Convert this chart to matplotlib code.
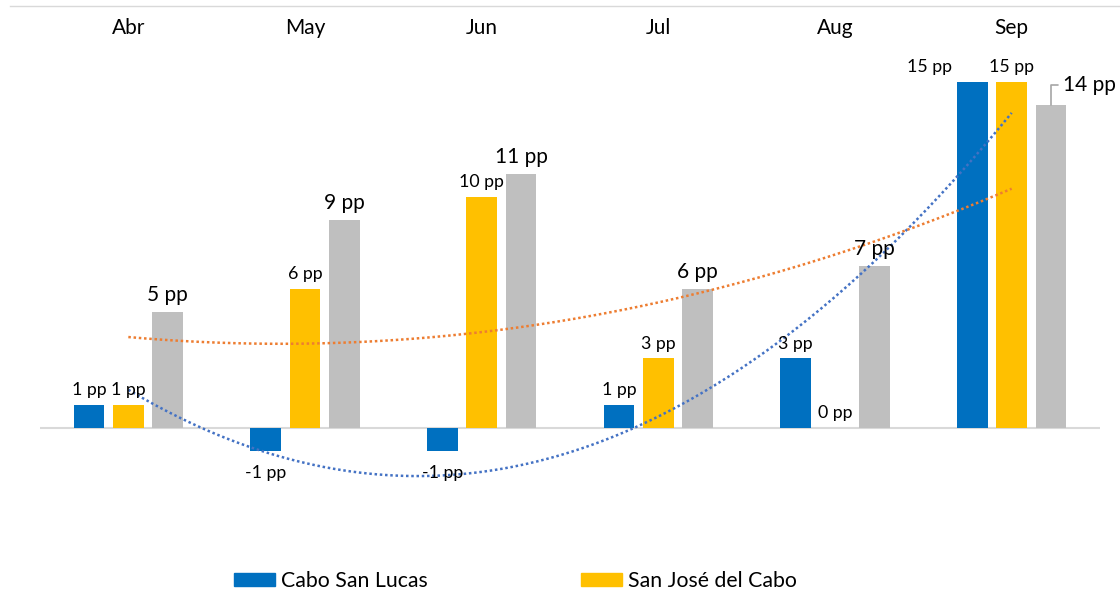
import numpy as np
import matplotlib.pyplot as plt
import matplotlib.transforms as mtransforms
from matplotlib.lines import Line2D
from matplotlib.patches import Patch

plt.rcParams['font.family'] = ['Lato', 'DejaVu Sans']

months = ['Abr', 'May', 'Jun', 'Jul', 'Aug', 'Sep']
cabo_san_lucas = [1, -1, -1, 1, 3, 15]
san_jose = [1, 6, 10, 3, 0, 15]
total = [5, 9, 11, 6, 7, 14]

BLUE = '#0070C0'
YELLOW = '#FFC000'
GRAY = '#BFBFBF'

W, H = 1120, 593
fig = plt.figure(figsize=(W / 100, H / 100), dpi=100)
ax = fig.add_axes([40 / W, (H - 520) / H, 1060 / W, 480 / H])

x = np.arange(len(months))
width = 0.175
off = 0.2225

ax.bar(x - off, cabo_san_lucas, width, color=BLUE, zorder=2)
ax.bar(x, san_jose, width, color=YELLOW, zorder=2)
ax.bar(x + off, total, width, color=GRAY, zorder=2)

ax.axhline(0, color='#D9D9D9', lw=1.5, zorder=1)

# polynomial trendlines (order 2)
xs = np.linspace(0, len(months) - 1, 200)
for series, col in [(cabo_san_lucas, '#4472C4'), (san_jose, '#ED7D31')]:
    coef = np.polyfit(x, series, 2)
    ax.plot(xs, np.polyval(coef, xs), color=col, lw=1.8,
            linestyle=(0, (1, 1.1)), zorder=3)

ax.set_xlim(-0.5, len(months) - 0.5)
ax.set_ylim(-4.0, 16.8)
for s in ax.spines.values():
    s.set_visible(False)
ax.set_xticks([])
ax.set_yticks([])

trans = mtransforms.blended_transform_factory(ax.transData, ax.transAxes)
for i, m in enumerate(months):
    ax.text(i, 1.025, m, transform=trans, ha='center', va='center', fontsize=15)


def label(xpos, val, size, dx=0):
    if val < 0:
        ax.annotate(f"{val} pp", (xpos, val), xytext=(dx, -10), textcoords='offset points',
                    ha='center', va='top', fontsize=size, zorder=5)
    else:
        ax.annotate(f"{val} pp", (xpos, val), xytext=(dx, 5), textcoords='offset points',
                    ha='center', va='bottom', fontsize=size, zorder=5)


for i in range(len(months)):
    label(x[i] - off, cabo_san_lucas[i], 12.8, dx=-31 if i == len(months) - 1 else 0)
    label(x[i], san_jose[i], 12.8)
    if i < len(months) - 1:
        label(x[i] + off, total[i], 15)

# last gray label with leader line
ax.annotate(f"{total[-1]} pp", (x[-1] + off, total[-1]), xytext=(9, 14),
            textcoords='offset points', ha='left', va='center', fontsize=15,
            arrowprops=dict(arrowstyle='-', color='#A6A6A6', lw=1.2,
                            connectionstyle='angle,angleA=0,angleB=90,rad=0',
                            shrinkA=2, shrinkB=0))

fig.add_artist(Line2D([10 / W, 1], [1 - 6 / H] * 2, color='#D9D9D9', lw=1))

handles = [Patch(color=BLUE, label='Cabo San Lucas'),
           Patch(color=YELLOW, label='San José del Cabo')]
fig.legend(handles=handles, loc='center left', bbox_to_anchor=(234 / W, 1 - 581 / H),
           ncol=2, frameon=False, fontsize=15.3, borderpad=0, borderaxespad=0,
           handlelength=1.93, handleheight=0.61, handletextpad=0.28, columnspacing=7.2)

fig.savefig('out.png', dpi=100)
